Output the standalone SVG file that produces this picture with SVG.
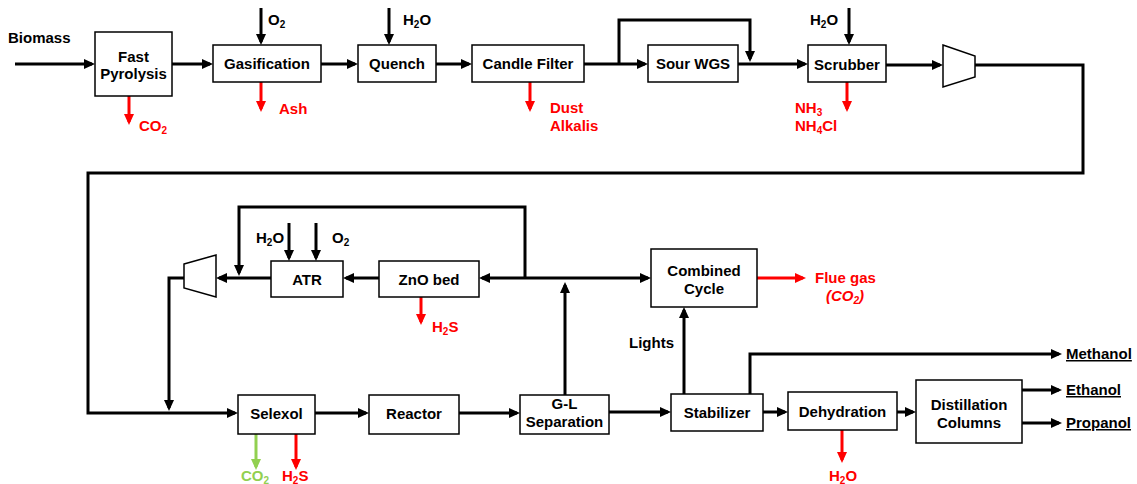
<svg xmlns="http://www.w3.org/2000/svg" width="1137" height="484" viewBox="0 0 1137 484">
<style>
text{font-family:"Liberation Sans",Arial,sans-serif;font-weight:bold;font-size:15px;fill:#000}
.c{text-anchor:middle}
.r{fill:#ff0000}
.g{fill:#92d050}
.s{font-size:10px}
.box{fill:#fff;stroke:#000;stroke-width:1.5}
.ln{fill:none;stroke:#000;stroke-width:3}
.lr{fill:none;stroke:#ff0000;stroke-width:3}
.lg{fill:none;stroke:#92d050;stroke-width:3}
.u{text-decoration:underline}
</style>
<defs>
<marker id="ak" markerUnits="userSpaceOnUse" markerWidth="11" markerHeight="10" refX="8" refY="5" orient="auto"><path d="M0,0L11,5L0,10z" fill="#000"/></marker>
<marker id="ar" markerUnits="userSpaceOnUse" markerWidth="11" markerHeight="10" refX="8" refY="5" orient="auto"><path d="M0,0L11,5L0,10z" fill="#ff0000"/></marker>
<marker id="ag" markerUnits="userSpaceOnUse" markerWidth="11" markerHeight="10" refX="8" refY="5" orient="auto"><path d="M0,0L11,5L0,10z" fill="#92d050"/></marker>
</defs>
<g id="connectors">
<path class="ln" marker-end="url(#ak)" d="M15,64H92"/>
<path class="ln" marker-end="url(#ak)" d="M172,64H210"/>
<path class="ln" marker-end="url(#ak)" d="M261,8V42"/>
<path class="ln" marker-end="url(#ak)" d="M321,64H355"/>
<path class="ln" marker-end="url(#ak)" d="M389,8V42"/>
<path class="ln" marker-end="url(#ak)" d="M436,64H469"/>
<path class="ln" marker-end="url(#ak)" d="M584,64H645"/>
<path class="ln" marker-end="url(#ak)" d="M619,64V20H750V59"/>
<path class="ln" marker-end="url(#ak)" d="M738,64H805"/>
<path class="ln" marker-end="url(#ak)" d="M849,8V42"/>
<path class="ln" marker-end="url(#ak)" d="M886,65H940"/>
<path class="ln" marker-end="url(#ak)" d="M975,65H1083V173H88V413H235"/>
<path class="ln" marker-end="url(#ak)" d="M184,278H169V408"/>
<path class="ln" marker-end="url(#ak)" d="M271,278H219"/>
<path class="ln" marker-end="url(#ak)" d="M289,223V258"/>
<path class="ln" marker-end="url(#ak)" d="M316,223V258"/>
<path class="ln" marker-end="url(#ak)" d="M525,278V207H239V273"/>
<path class="ln" marker-end="url(#ak)" d="M379,278H346"/>
<path class="ln" marker-end="url(#ak)" d="M565,278H482"/>
<path class="ln" marker-end="url(#ak)" d="M565,278H648"/>
<path class="ln" marker-end="url(#ak)" d="M565,395V285"/>
<path class="ln" marker-end="url(#ak)" d="M684,394V310"/>
<path class="ln" marker-end="url(#ak)" d="M315,413H366"/>
<path class="ln" marker-end="url(#ak)" d="M459,413H517"/>
<path class="ln" marker-end="url(#ak)" d="M609,412H668"/>
<path class="ln" marker-end="url(#ak)" d="M750,394V354H1059"/>
<path class="ln" marker-end="url(#ak)" d="M763,412H785"/>
<path class="ln" marker-end="url(#ak)" d="M897,412H913"/>
<path class="ln" marker-end="url(#ak)" d="M1022,390H1059"/>
<path class="ln" marker-end="url(#ak)" d="M1022,423H1059"/>
<path class="lr" marker-end="url(#ar)" d="M129,96V122"/>
<path class="lr" marker-end="url(#ar)" d="M261,82V109"/>
<path class="lr" marker-end="url(#ar)" d="M530,82V109"/>
<path class="lr" marker-end="url(#ar)" d="M847,82V109"/>
<path class="lr" marker-end="url(#ar)" d="M421,297V322"/>
<path class="lr" marker-end="url(#ar)" d="M757,278H803"/>
<path class="lr" marker-end="url(#ar)" d="M296,434V467"/>
<path class="lr" marker-end="url(#ar)" d="M842,430V460"/>
<path class="lg" marker-end="url(#ag)" d="M256,434V467"/>
</g>
<g id="fast-pyrolysis"><rect class="box" x="95" y="32" width="77" height="64"/><text class="c" x="133.5" y="62">Fast</text><text class="c" x="133.5" y="79">Pyrolysis</text></g>
<g id="gasification"><rect class="box" x="213" y="45" width="108" height="37"/><text class="c" x="267" y="69">Gasification</text></g>
<g id="quench"><rect class="box" x="358" y="45" width="78" height="37"/><text class="c" x="397" y="69">Quench</text></g>
<g id="candle-filter"><rect class="box" x="472" y="45" width="112" height="37"/><text class="c" x="528" y="69">Candle Filter</text></g>
<g id="sour-wgs"><rect class="box" x="648" y="45" width="90" height="37"/><text class="c" x="693" y="69">Sour WGS</text></g>
<g id="scrubber"><rect class="box" x="808" y="45" width="78" height="37"/><text class="c" x="847" y="70">Scrubber</text></g>
<g id="compressor-1"><polygon class="box" points="943,45 975,56 975,77 943,87"/></g>
<g id="compressor-2"><polygon class="box" points="184,264 216,255 216,297 184,288"/></g>
<g id="atr"><rect class="box" x="271" y="261" width="72" height="36"/><text class="c" x="307" y="285">ATR</text></g>
<g id="zno-bed"><rect class="box" x="379" y="261" width="100" height="36"/><text class="c" x="429" y="285">ZnO bed</text></g>
<g id="combined-cycle"><rect class="box" x="651" y="249" width="106" height="58"/><text class="c" x="704" y="276">Combined</text><text class="c" x="704" y="294">Cycle</text></g>
<g id="selexol"><rect class="box" x="238" y="395" width="77" height="39"/><text class="c" x="276.5" y="419">Selexol</text></g>
<g id="reactor"><rect class="box" x="369" y="395" width="90" height="39"/><text class="c" x="414" y="419">Reactor</text></g>
<g id="gl-separation"><rect class="box" x="520" y="395" width="89" height="39"/><text class="c" x="564.5" y="409">G-L</text><text class="c" x="564.5" y="427">Separation</text></g>
<g id="stabilizer"><rect class="box" x="671" y="394" width="92" height="37"/><text class="c" x="717" y="418">Stabilizer</text></g>
<g id="dehydration"><rect class="box" x="788" y="392" width="109" height="38"/><text class="c" x="842.5" y="417">Dehydration</text></g>
<g id="distillation-columns"><rect class="box" x="916" y="380" width="106" height="63"/><text class="c" x="969" y="410">Distillation</text><text class="c" x="969" y="428">Columns</text></g>
<g id="labels">
<text x="8" y="43">Biomass</text>
<text x="268" y="25">O<tspan class="s" dy="3">2</tspan></text>
<text class="r" x="279" y="114">Ash</text>
<text class="r" x="139" y="131">CO<tspan class="s" dy="3">2</tspan></text>
<text x="403" y="25">H<tspan class="s" dy="3">2</tspan><tspan dy="-3">O</tspan></text>
<text class="r" x="550" y="113">Dust</text>
<text class="r" x="550" y="131">Alkalis</text>
<text x="810" y="25">H<tspan class="s" dy="3">2</tspan><tspan dy="-3">O</tspan></text>
<text class="r" x="795" y="113">NH<tspan class="s" dy="3">3</tspan></text>
<text class="r" x="795" y="131">NH<tspan class="s" dy="3">4</tspan><tspan dy="-3">Cl</tspan></text>
<text x="256" y="243">H<tspan class="s" dy="3">2</tspan><tspan dy="-3">O</tspan></text>
<text x="332" y="243">O<tspan class="s" dy="3">2</tspan></text>
<text class="r" x="432" y="332">H<tspan class="s" dy="3">2</tspan><tspan dy="-3">S</tspan></text>
<text class="r" x="815" y="283">Flue gas</text>
<text class="r" x="826" y="301" font-style="italic">(CO<tspan class="s" dy="3">2</tspan><tspan dy="-3">)</tspan></text>
<text x="629" y="348">Lights</text>
<text class="g" x="241" y="481">CO<tspan class="s" dy="3">2</tspan></text>
<text class="r" x="282" y="481">H<tspan class="s" dy="3">2</tspan><tspan dy="-3">S</tspan></text>
<text class="r" x="829" y="481">H<tspan class="s" dy="3">2</tspan><tspan dy="-3">O</tspan></text>
<text class="u" x="1066" y="359">Methanol</text>
<text class="u" x="1066" y="395">Ethanol</text>
<text class="u" x="1066" y="428">Propanol</text>
</g>
</svg>
